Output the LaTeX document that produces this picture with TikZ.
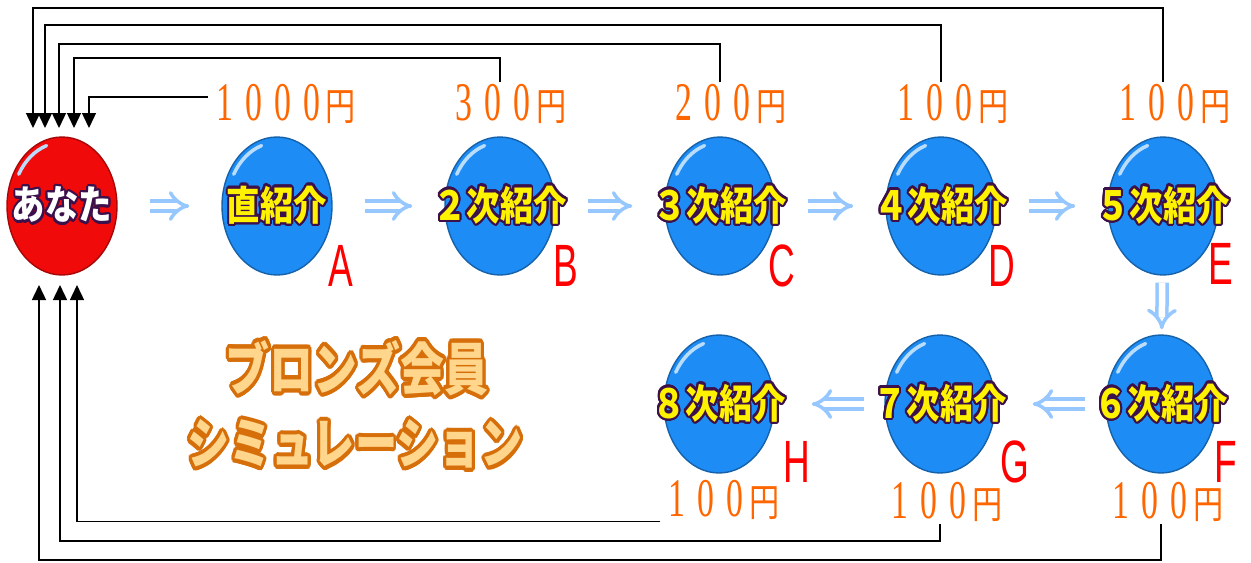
\documentclass[tikz,border=0pt]{standalone}
\usepackage{fontspec}
\usepackage{contour}
\usetikzlibrary{arrows.meta,shapes.geometric,calc}
\newfontfamily\jp{Noto Sans CJK JP}
\newfontfamily\mincho{Liberation Serif}
\newfontfamily\abc{Liberation Sans}
\definecolor{ballblue}{RGB}{30,140,245}
\definecolor{ballred}{RGB}{240,10,10}
\definecolor{inkpurple}{RGB}{60,16,74}
\definecolor{moneyorange}{RGB}{255,102,0}
\definecolor{flowblue}{RGB}{150,200,255}
\definecolor{titlefill}{RGB}{255,214,140}
\definecolor{titleedge}{RGB}{214,110,10}
\contournumber{24}
% narrow serif digit in a full-width cell
\newcommand\fwd[1]{\makebox[0.58cm]{\scalebox{0.62}[1]{#1}}}
\newcommand\yenmark{\makebox[0.6cm]{\scalebox{0.78}[1]{\jp\fontsize{22}{22}\selectfont 円}}}
\tikzset{
  ball/.style={ellipse,minimum width=2.2cm,minimum height=2.76cm,inner sep=0pt,
    fill=ballblue,draw=ballblue!70!black,line width=0.8pt},
  youball/.style={ball,fill=ballred,draw=ballred!70!black},
  shine/.style={white!70!ballblue,line width=2pt,line cap=round},
  rank/.style={font=\jp\bfseries\fontsize{19}{19}\selectfont,text=yellow,inner sep=0pt,yscale=1.2},
  letter/.style={font=\abc\fontsize{34}{34}\selectfont,text=red,xscale=0.62,inner sep=0pt},
  money/.style={font=\mincho\fontsize{31}{31}\selectfont,text=moneyorange,inner sep=1pt},
  ttl/.style={font=\jp\bfseries\fontsize{25}{25}\selectfont,text=titlefill,inner sep=0pt,yscale=1.3},
  flow/.style={draw=flowblue,line width=0.07cm,double=white,double distance=0.13cm,
    -{Implies},shorten <=0.64cm,shorten >=0.64cm},
  back/.style={line width=0.8pt,-{Triangle[width=0.28cm,length=0.3cm]}}
}
\begin{document}
\begin{tikzpicture}[x=0.02cm,y=-0.02cm]
\useasboundingbox (0,0) rectangle (1251,562);

% balls
\node[youball] (you) at (62,206) {};
\node[ball] (a) at (277,206) {};
\node[ball] (b) at (500,206) {};
\node[ball] (c) at (720,206) {};
\node[ball] (d) at (941,206) {};
\node[ball] (e) at (1163,206) {};
\node[ball] (f) at (1161,404) {};
\node[ball] (g) at (940,404) {};
\node[ball] (h) at (719,404) {};
\foreach \n in {you,a,b,c,d,e,f,g,h}
  \draw[shine] (\n.center) ++(108:1.0cm and 1.27cm)
    arc[start angle=108,end angle=150,x radius=1.0cm,y radius=1.27cm];

% texts on the balls
\contourlength{1.1pt}
\node[rank,text=white] (you-t) at (you) {\contour{inkpurple}{あなた}};
\node[rank] (a-t) at (a) {\contour{inkpurple}{直紹介}};
\node[rank] (b-t) at (b) {\contour{inkpurple}{２次紹介}};
\node[rank] (c-t) at (c) {\contour{inkpurple}{３次紹介}};
\node[rank] (d-t) at (d) {\contour{inkpurple}{４次紹介}};
\node[rank] (e-t) at (e) {\contour{inkpurple}{５次紹介}};
\node[rank] (f-t) at (f) {\contour{inkpurple}{６次紹介}};
\node[rank] (g-t) at (g) {\contour{inkpurple}{７次紹介}};
\node[rank] (h-t) at (h) {\contour{inkpurple}{８次紹介}};

% letters
\node[letter] (la) at (341,266) {A};
\node[letter] (lb) at (566,266) {B};
\node[letter] (lc) at (782,266) {C};
\node[letter] (ld) at (1002,266) {D};
\node[letter] (le) at (1221,264) {E};
\node[letter] (lf) at (1226,462) {F};
\node[letter] (lg) at (1015,462) {G};
\node[letter] (lh) at (797,462) {H};

% amounts
\node[money] (ma) at (283,104) {\fwd1\fwd0\fwd0\fwd0\yenmark};
\node[money] (mb) at (508,104) {\fwd3\fwd0\fwd0\yenmark};
\node[money] (mc) at (728,104) {\fwd2\fwd0\fwd0\yenmark};
\node[money] (md) at (950,104) {\fwd1\fwd0\fwd0\yenmark};
\node[money] (me) at (1172,104) {\fwd1\fwd0\fwd0\yenmark};
\node[money] (mh) at (721,500) {\fwd1\fwd0\fwd0\yenmark};
\node[money] (mg) at (944,502) {\fwd1\fwd0\fwd0\yenmark};
\node[money] (mf) at (1165,502) {\fwd1\fwd0\fwd0\yenmark};

% title
\contourlength{1.7pt}
\node[ttl] (ttl1) at (357,370) {\contour{titleedge}{ブロンズ会員}};
\node[ttl,font=\jp\bfseries\fontsize{24}{24}\selectfont] (ttl2) at (355,446) {\contour{titleedge}{シミュレーション}};

% flow
\draw[flow] (you) -- (a);
\draw[flow] (a) -- (b);
\draw[flow] (b) -- (c);
\draw[flow] (c) -- (d);
\draw[flow] (d) -- (e);
\draw[flow,shorten <=0.14cm,shorten >=0.1cm] (e) -- (f);
\draw[flow,shorten <=0.4cm,shorten >=0.74cm] (f) -- (g);
\draw[flow,shorten <=0.4cm,shorten >=0.74cm] (g) -- (h);

% money back to you (top)
\coordinate (t1) at (33,128);
\coordinate (t2) at (45,128);
\coordinate (t3) at (59,128);
\coordinate (t4) at (74,128);
\coordinate (t5) at (89,128);
\coordinate (ce) at (33,8);
\coordinate (cd) at (45,25);
\coordinate (cc) at (59,44);
\coordinate (cb) at (74,58);
\draw[back] ([yshift=4pt]ma.west) -| (t5);
\draw[back] (b |- mb.north) |- (cb) -- (t4);
\draw[back] (c |- mc.north) |- (cc) -- (t3);
\draw[back] (d |- md.north) |- (cd) -- (t2);
\draw[back] (e |- me.north) |- (ce) -- (t1);

% money back to you (bottom)
\coordinate (u1) at (39,285);
\coordinate (u2) at (60,285);
\coordinate (u3) at (77,285);
\coordinate (cg) at (60,541);
\coordinate (cf) at (39,560);
\draw[back] (mh.south west) -| (u3);
\draw[back] (g |- mg.south) |- (cg) -- (u2);
\draw[back] (f |- mf.south) |- (cf) -- (u1);
\end{tikzpicture}
\end{document}
